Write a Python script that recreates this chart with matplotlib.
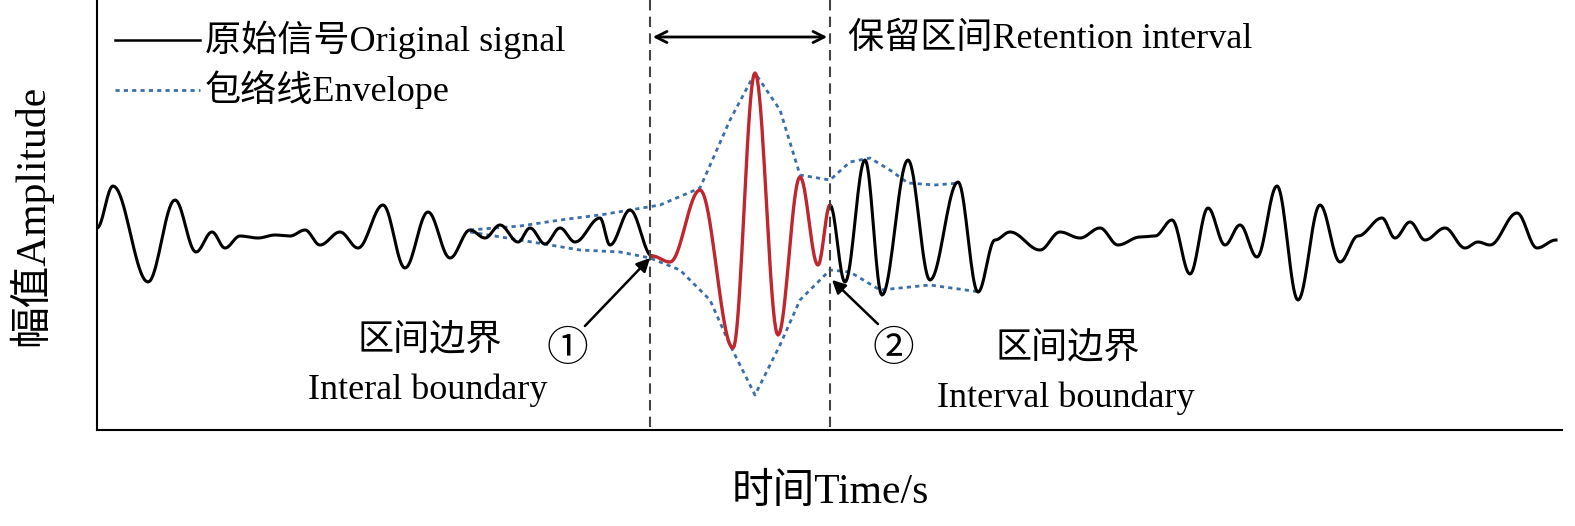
import numpy as np
import matplotlib
matplotlib.use("Agg")
import matplotlib.pyplot as plt

plt.rcParams['font.family'] = ['Liberation Serif', 'Noto Sans CJK SC', 'DejaVu Sans']

# extrema of the signal (x, amplitude in screen-like units, larger = lower)
black1_x = [97,113,148,175,196,212,225,240,258,275,290,305,320,340,358,383,405,428,450,470,485,500,518,530,545,560,575,600,610,630,652]
black1_y = [228,186,282,200,252,232,248,236,238,235,236,230,245,232,248,205,268,212,258,230,238,225,242,228,244,228,242,218,245,210,256]
red_x = [652,670,700,733,755,778,800,818,830]
red_y = [256,262,190,348,73,335,177,265,205]
black2_x = [830,845,865,882,908,930,958,978,995,1010,1040,1060,1080,1100,1118,1140,1155,1172,1190,1208,1225,1240,1257,1277,1298,1320,1340,1358,1382,1395,1410,1425,1445,1465,1478,1490,1517,1537,1556]
black2_y = [205,282,160,295,160,280,182,292,240,232,250,232,238,228,245,237,236,220,274,208,245,225,257,186,300,205,262,236,218,238,222,240,228,248,242,245,213,248,240]
env_up_x = [470,520,560,600,630,660,700,730,755,780,800,830,850,870,890,908,935,960]
env_up_y = [230,226,220,215,210,205,188,120,73,110,175,180,162,158,170,183,185,183]
env_lo_x = [470,520,580,620,650,680,710,730,755,780,800,830,850,880,930,980]
env_lo_y = [232,240,250,252,258,270,300,345,395,345,300,270,272,290,285,292]

def cosine_path(xs, ys, n=20):
    ox, oy = [], []
    for i in range(len(xs)-1):
        t = np.linspace(0, 1, n, endpoint=False)
        s = (1 - np.cos(np.pi*t))/2
        ox.extend(xs[i] + (xs[i+1]-xs[i])*t)
        oy.extend(ys[i] + (ys[i+1]-ys[i])*s)
    ox.append(xs[-1]); oy.append(ys[-1])
    return ox, oy

def line_path(xs, ys, n=20):
    ox, oy = [], []
    for i in range(len(xs)-1):
        t = np.linspace(0, 1, n, endpoint=False)
        ox.extend(xs[i] + (xs[i+1]-xs[i])*t)
        oy.extend(ys[i] + (ys[i+1]-ys[i])*t)
    ox.append(xs[-1]); oy.append(ys[-1])
    return ox, oy

fig = plt.figure(figsize=(15.75, 5.26), dpi=100)
ax = fig.add_axes([97/1575, 96/526, 1465/1575, 430/526])
ax.set_xlim(97, 1562)
ax.set_ylim(430, 0)
for s in ['top', 'right']:
    ax.spines[s].set_visible(False)
ax.spines['left'].set_linewidth(1.5)
ax.spines['bottom'].set_linewidth(1.5)
ax.set_xticks([]); ax.set_yticks([])

blue = '#3a6fa8'
ax.plot(*line_path(env_up_x, env_up_y), ls=(0, (1.5, 1.5)), color=blue, lw=2)
ax.plot(*line_path(env_lo_x, env_lo_y), ls=(0, (1.5, 1.5)), color=blue, lw=2)
ax.plot(*cosine_path(black1_x, black1_y), color='black', lw=2.2)
ax.plot(*cosine_path(black2_x, black2_y), color='black', lw=2.2)
ax.plot(*cosine_path(red_x, red_y), color='#c0262d', lw=2.4)

for xv in (650, 830):
    ax.plot([xv, xv], [0, 430], ls=(0, (5, 3)), color='#444444', lw=1.5)
ax.annotate('', xy=(650, 37), xytext=(830, 37),
            arrowprops=dict(arrowstyle='<->', color='black', lw=2, mutation_scale=20))
ax.text(848, 39, '保留区间Retention interval', fontsize=26, va='center')

# legend
ax.plot([115, 200], [40, 40], color='black', lw=1.8)
ax.text(205, 40, '原始信号Original signal', fontsize=26, va='center')
ax.plot([115, 200], [90, 90], ls=(0, (1.5, 1.5)), color=blue, lw=2)
ax.text(205, 90, '包络线Envelope', fontsize=26, va='center')

ax.annotate('', xy=(652, 256), xytext=(583, 328),
            arrowprops=dict(arrowstyle='-|>', color='black', lw=1.8, mutation_scale=20))
ax.annotate('', xy=(830, 278), xytext=(880, 326),
            arrowprops=dict(arrowstyle='-|>', color='black', lw=1.8, mutation_scale=20))
ax.text(567, 350, '①', fontsize=30, ha='center', va='center', family=['Noto Sans CJK SC'])
ax.text(893, 350, '②', fontsize=30, ha='center', va='center', family=['Noto Sans CJK SC'])
ax.text(430, 340, '区间边界', fontsize=26, ha='center', va='center')
ax.text(428, 390, 'Interal boundary', fontsize=26, ha='center', va='center')
ax.text(1068, 348, '区间边界', fontsize=26, ha='center', va='center')
ax.text(1066, 398, 'Interval boundary', fontsize=26, ha='center', va='center')

fig.text(30/1575, 1-215/526, '幅值Amplitude', fontsize=30, rotation=90, ha='center', va='center')
fig.text(830/1575, 1-493/526, '时间Time/s', fontsize=30, ha='center', va='center')

fig.savefig('out.png', dpi=100)
